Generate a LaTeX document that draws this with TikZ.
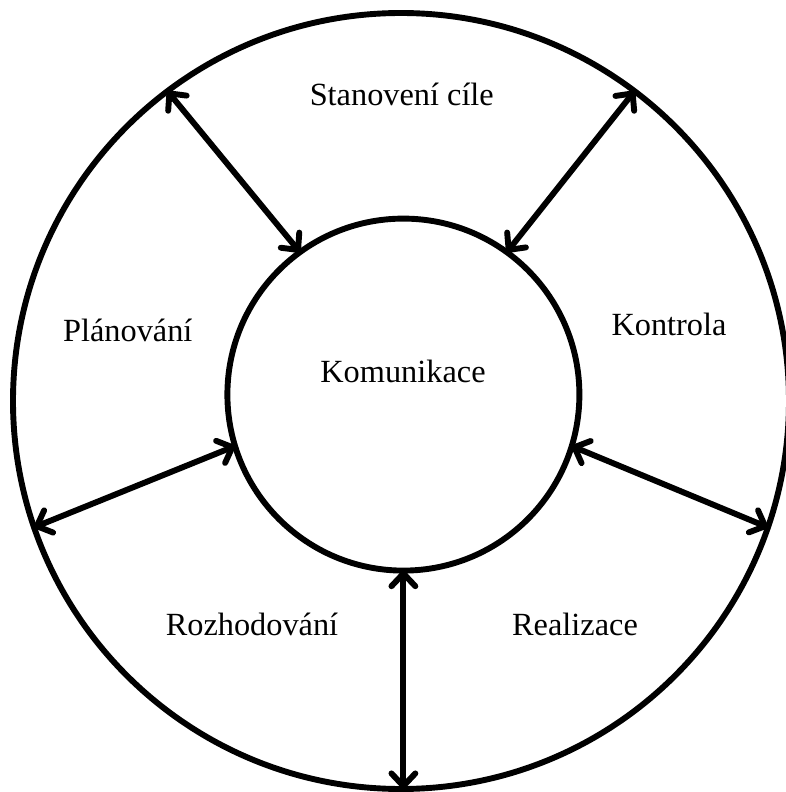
\documentclass[tikz,border=0pt]{standalone}
\usepackage{fontspec}
\setmainfont{Liberation Serif}
\usetikzlibrary{arrows.meta}
\usetikzlibrary{positioning}

\begin{document}
\begin{tikzpicture}[font=\fontsize{23}{28}\selectfont,
  kruh/.style={draw, circle, line width=4.2pt, inner sep=0pt, outer sep=0pt},
  sipka/.style={line width=4.2pt, {Straight Barb[length=9pt, width=17pt, line cap=round, round]}-{Straight Barb[length=9pt, width=17pt, line cap=round, round]}},
  popis/.style={anchor=base}]
  % Define circle parameters
  \def\rvnejsi{9.7}
  \def\rvnitrni{4.4}

  % Fix the page size
  \useasboundingbox (-10.025,-9.775) rectangle (9.6,10.025);

  % Draw the outer circle
  \node[kruh, minimum size=2*\rvnejsi cm] (okoli) at (0,0) {};

  % Draw the inner circle
  \node[kruh, minimum size=2*\rvnitrni cm] (kom) at (0.06,0.16) {};

  % Labels of the phases
  \node[popis] (komtext) at (0.05,0.475) {Komunikace};
  \node[popis] (cile) at (0.02,7.375) {Stanovení cíle};
  \node[popis] (plan) at (-6.83,1.5) {Plánování};
  \node[popis] (kontrola) at (6.7,1.625) {Kontrola};
  \node[popis] (rozhod) at (-3.725,-5.85) {Rozhodování};
  \node[popis] (realiz) at (4.35,-5.85) {Realizace};

  % Draw the double arrows between the circles
  \draw[sipka] (okoli.127) -- (kom.126);
  \draw[sipka] (okoli.53) -- (kom.54);
  \draw[sipka] (okoli.199.5) -- (kom.197);
  \draw[sipka] (okoli.-19.4) -- (kom.-17.6);
  \draw[sipka] (kom.south) -- (kom.south |- okoli.south);

\end{tikzpicture}
\end{document}
